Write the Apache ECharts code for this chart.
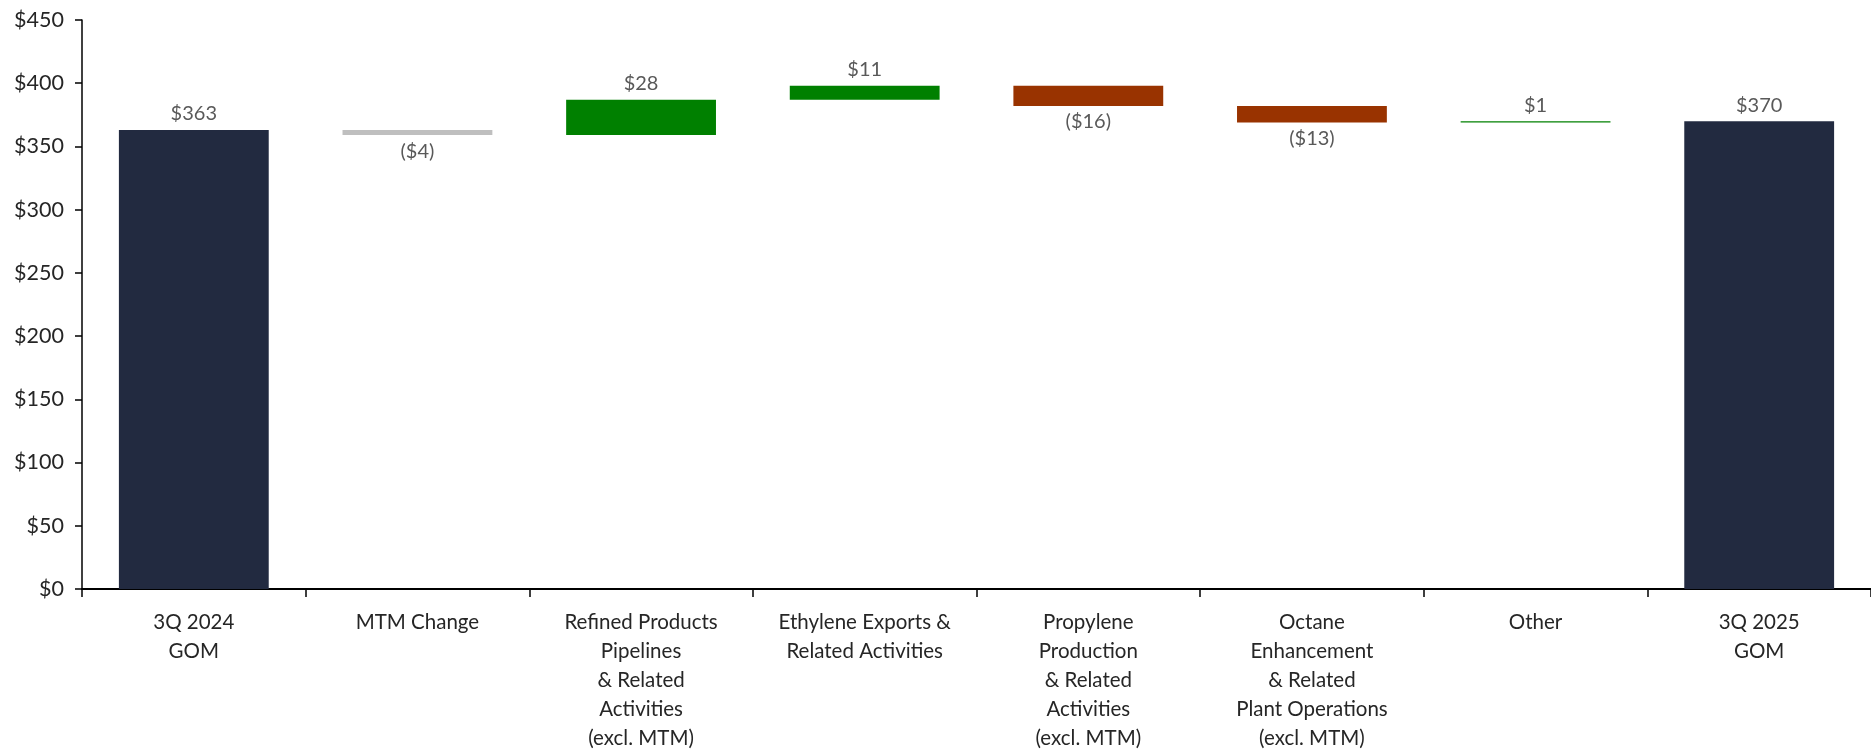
<!DOCTYPE html>
<html>
<head>
<meta charset="utf-8">
<script src="https://cdn.jsdelivr.net/npm/echarts@6/dist/echarts.min.js"></script>
<style>
html,body{margin:0;padding:0;background:#fff;overflow:hidden;}
#chart{width:1871px;height:753px;}
</style>
</head>
<body>
<div id="chart"></div>
<script>
const categories = [
  "3Q 2024\nGOM",
  "MTM Change",
  "Refined Products\nPipelines\n& Related\nActivities\n(excl. MTM)",
  "Ethylene Exports &\nRelated Activities",
  "Propylene\nProduction\n& Related\nActivities\n(excl. MTM)",
  "Octane\nEnhancement\n& Related\nPlant Operations\n(excl. MTM)",
  "Other",
  "3Q 2025\nGOM"
];
// first and last are totals, the rest are changes
const values = [363, -4, 28, 11, -16, -13, 1, 370];
const yTicks = [0, 50, 100, 150, 200, 250, 300, 350, 400, 450];

const NAVY = '#222A40', GRAY = '#BFBFBF', GREEN = '#008000', RUST = '#993300';
const FONT = 'Lato';

const base = [], visible = [], colors = [], labelPos = [];
let running = 0;
values.forEach((v, i) => {
  const isTotal = (i === 0 || i === values.length - 1);
  if (isTotal) {
    base.push(0); visible.push(v); colors.push(NAVY); labelPos.push('top');
    running = v;
  } else {
    const start = running, end = running + v;
    base.push(Math.min(start, end));
    visible.push(Math.abs(v));
    colors.push(i === 1 ? GRAY : (v >= 0 ? GREEN : RUST));
    labelPos.push(v >= 0 ? 'top' : 'bottom');
    running = end;
  }
});

function fmt(v) { return v < 0 ? '($' + Math.abs(v) + ')' : '$' + v; }

const chart = echarts.init(document.getElementById('chart'), null, {renderer: 'canvas', width: 1871, height: 753});
chart.setOption({
  animation: false,
  grid: {left: 82, right: 0, top: 20, bottom: 159, containLabel: false},
  xAxis: {
    type: 'category',
    data: categories,
    axisLine: {lineStyle: {color: '#000', width: 2}},
    axisTick: {show: true, length: 8, lineStyle: {color: '#000', width: 1.5}},
    axisLabel: {interval: 0, margin: 19, color: '#262626', fontFamily: FONT, fontSize: 20.5, lineHeight: 29, align: 'center'}
  },
  yAxis: {
    type: 'value',
    min: 0, max: 450, interval: 50,
    splitLine: {show: false},
    axisLine: {show: true, lineStyle: {color: '#000', width: 1.5}},
    axisTick: {show: true, length: 7, lineStyle: {color: '#000', width: 1.5}},
    axisLabel: {margin: 18, color: '#262626', fontFamily: FONT, fontSize: 21.5,
      formatter: v => yTicks.includes(v) ? '$' + v : ''}
  },
  series: [
    {
      type: 'bar', stack: 'w', data: base, barWidth: '67%',
      itemStyle: {color: 'transparent'}, silent: true, label: {show: false}
    },
    {
      type: 'bar', stack: 'w', barWidth: '67%',
      data: visible.map((v, i) => ({
        value: v,
        itemStyle: {color: colors[i]},
        label: {
          show: true, position: labelPos[i], distance: 6,
          formatter: () => fmt(values[i]),
          color: '#595959', fontFamily: FONT, fontSize: 20
        }
      }))
    }
  ]
});
</script>
</body>
</html>
